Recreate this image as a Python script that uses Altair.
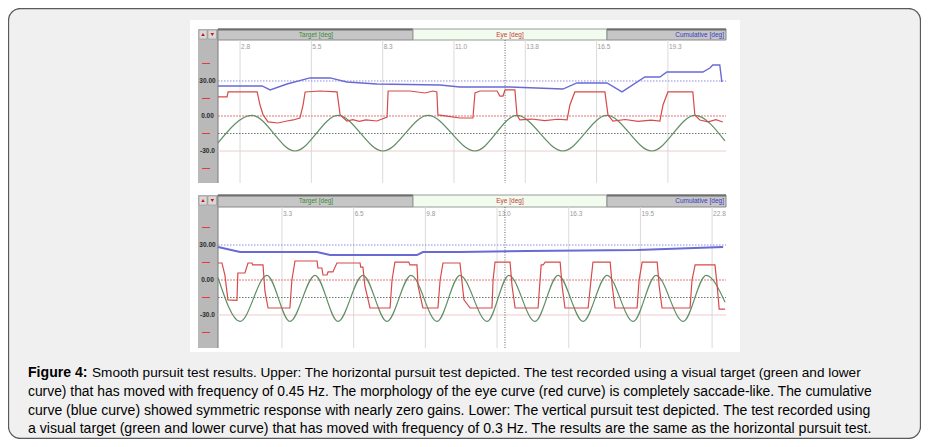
import altair as alt
import pandas as pd

# ---------------- data ----------------
# Upper panel: horizontal pursuit test (time s, position deg)
up_ticks = [2.75, 5.5, 8.25, 11.0, 13.75, 16.5, 19.25]
up_tick_labels = ["2.8", "5.5", "8.3", "11.0", "13.8", "16.5", "19.3"]

up_target_t = [1.90, 3.21, 4.87, 6.53, 8.26, 10.00, 11.81, 13.43, 15.20, 16.90, 18.63, 20.29, 21.45]
up_target_v = [-23.1, 0.5, -30.0, 0.5, -30.0, 0.5, -30.0, 0.5, -30.0, 0.5, -30.0, 0.5, -21.4]

up_eye_t = [1.90, 2.25, 2.29, 3.41, 3.52, 3.64, 3.83, 4.21, 4.56, 4.80, 5.06, 5.18, 5.26, 5.83, 6.49,
            6.61, 6.87, 7.10, 7.35, 7.60, 8.03, 8.42, 8.46, 9.30, 9.88, 10.19, 10.34, 10.38, 10.80, 11.23,
            11.73, 11.81, 12.00, 12.66, 12.77, 12.89, 12.97, 13.35, 13.43, 13.54, 14.00, 14.50, 15.00, 15.36,
            15.47, 15.66, 16.82, 16.94, 17.13, 17.60, 18.10, 18.60, 18.94, 19.06, 19.25, 20.21, 20.29,
            20.48, 20.80, 21.10, 21.37]
up_eye_v = [16.3, 16.3, 20.6, 20.6, 9.4, 0.9, -5.1, -6.0, -4.3, -3.4, -1.7, 9.4, 20.6, 21.4, 20.6,
            0.9, -4.3, -3.2, -4.6, -3.4, -4.3, -0.9, 21.4, 21.4, 19.7, 21.4, 20.6, 0.9, -0.4, -1.7,
            -1.7, 19.7, 21.4, 21.4, 17.1, 17.1, 22.3, 22.3, 0.9, -3.4, -2.6, -4.0, -2.8, -3.4,
            9.4, 20.6, 20.6, 0.9, -4.3, -3.0, -4.6, -3.6, -4.3, 9.4, 20.6, 20.6, 0.9,
            -3.4, -5.0, -3.2, -5.1]

up_cum_t = [1.90, 3.60, 3.91, 4.56, 5.45, 6.22, 6.87, 8.03, 10.46, 11.23, 13.16, 15.20, 15.74, 16.90,
            17.48, 18.36, 18.94, 19.21, 20.60, 20.87, 20.98, 21.25, 21.33]
up_cum_v = [25.7, 25.7, 22.3, 27.4, 32.6, 32.6, 29.1, 27.4, 26.6, 24.9, 24.9, 23.1, 28.3, 28.3,
            20.6, 33.4, 33.4, 37.7, 37.7, 41.1, 43.7, 43.7, 29.1]
up_cursor = 12.97

# Lower panel: vertical pursuit test
lo_ticks = [3.25, 6.5, 9.75, 13.0, 16.25, 19.5, 22.75]
lo_tick_labels = ["3.3", "6.5", "9.8", "13.0", "16.3", "19.5", "22.8"]

lo_target_t = [0.35, 1.35, 2.57, 3.61, 4.75, 5.79, 6.92, 8.01, 9.10, 10.28, 11.32, 12.55, 13.54,
               14.72, 15.77, 16.90, 17.99, 19.17, 20.21, 21.44, 22.48, 23.34]
lo_target_v = [2.0, -35.5, 4.0, -35.5, 4.0, -35.5, 4.0, -35.5, 4.0, -35.5, 4.0, -35.5, 4.0,
               -35.5, 4.0, -35.5, 4.0, -35.5, 4.0, -35.5, 4.0, -19.0]

lo_eye_t = [0.35, 0.53, 0.665, 0.80, 1.21, 1.25, 1.57, 1.71, 1.89, 1.92, 2.39, 2.48, 2.62, 3.61, 3.70,
            3.84, 4.84, 4.88, 5.06, 5.11, 5.29, 5.34, 5.56, 5.74, 6.79, 6.82, 6.92, 7.01, 7.24, 8.15,
            8.24, 8.37, 9.00, 9.05, 9.37, 9.42, 9.64, 10.32, 10.42, 10.55, 11.32, 11.50, 11.78, 12.77,
            12.82, 12.91, 13.59, 13.68, 13.82, 14.86, 15.00, 15.09, 15.18, 15.86, 15.95, 16.08, 17.13,
            17.26, 17.35, 18.13, 18.22, 18.35, 19.35, 19.44, 19.58, 20.26, 20.35, 20.48, 21.75, 21.84,
            21.98, 22.88, 22.98, 23.07, 23.34]
lo_eye_v = [14.6, 14.6, 4.0, -17.0, -17.5, 6.0, 6.0, 14.6, 14.6, 12.9, 12.9, -10.0, -24.0, -24.0, 0.0,
            16.3, 16.3, 10.3, 10.3, 4.3, 4.3, 6.9, 6.9, 14.6, 14.6, 11.0, 11.0, -5.0, -24.0, -24.0,
            0.0, 15.4, 15.4, 12.9, 12.9, -5.0, -24.0, -24.0, 0.0, 14.6, 14.6, -17.0, -24.0, -24.0,
            0.0, 15.4, 15.4, -5.0, -24.0, -24.0, 12.9, 12.9, 15.4, 15.4, -5.0, -24.0, -24.0,
            0.0, 15.4, 15.4, -5.0, -24.0, -24.0, 0.0, 15.4, 15.4, -5.0, -24.0, -24.0, 0.0,
            12.9, 12.9, -5.0, -25.0, -25.0]

lo_cum_t = [0.35, 1.35, 4.84, 5.43, 9.37, 9.64, 11.32, 14.36, 19.35, 23.25]
lo_cum_v = [28.3, 24.0, 24.0, 21.4, 21.4, 24.0, 24.0, 24.9, 25.7, 28.3]
lo_cursor = 13.36

side_values = [30, 0, -30]
side_labels = ["30.00", "0.00", "-30.0"]
side_marks = [45, 15, -15, -45]

caption_bold = "Figure 4:"
caption_lines = [
    "Smooth pursuit test results. Upper: The horizontal pursuit test depicted. The test recorded using a visual target (green and lower",
    "curve) that has moved with frequency of 0.45 Hz. The morphology of the eye curve (red curve) is completely saccade-like. The cumulative",
    "curve (blue curve) showed symmetric response with nearly zero gains. Lower: The vertical pursuit test depicted. The test recorded using",
    "a visual target (green and lower curve) that has moved with frequency of 0.3 Hz. The results are the same as the horizontal pursuit test.",
]

# ---------------- layout ----------------
W, H = 913, 431
FONT = "Liberation Sans"
PX0, PX1 = 210, 718  # plot left/right (px)
ONE = pd.DataFrame({"a": [0]})


def vrect(x, x2, y, y2, fill, stroke=None, sw=1, radius=0):
    kw = dict(fill=fill, cornerRadius=radius)
    if stroke:
        kw.update(stroke=stroke, strokeWidth=sw)
    else:
        kw.update(strokeWidth=0)
    return alt.Chart(ONE).mark_rect(**kw).encode(
        x=alt.value(x), x2=alt.value(x2), y=alt.value(y), y2=alt.value(y2))


def vrule(x, x2, y, y2, color, sw=1, dash=None):
    kw = dict(color=color, strokeWidth=sw)
    if dash:
        kw["strokeDash"] = dash
    return alt.Chart(ONE).mark_rule(**kw).encode(
        x=alt.value(x), x2=alt.value(x2), y=alt.value(y), y2=alt.value(y2))


def vtext(txt, x, y, size, color, align="center", weight="normal", font=FONT):
    return alt.Chart(ONE).mark_text(
        text=txt, fontSize=size, color=color, align=align, baseline="middle",
        fontWeight=weight, font=font).encode(x=alt.value(x), y=alt.value(y))


def panel(ticks, tick_labels, target, eye, cum, cursor, xdom, ydom, top, head_top, bottom,
          cum_width):
    xs = alt.Scale(domain=xdom, range=[PX0, PX1], nice=False, zero=False)
    ys = alt.Scale(domain=ydom, range=[bottom, top], nice=False, zero=False)
    X = lambda f: alt.X(f, scale=xs, axis=None)
    Y = lambda f: alt.Y(f, scale=ys, axis=None)
    layers = []
    # sidebar
    layers.append(vrect(190, 210, head_top, bottom, "#b9b9b9"))
    layers.append(vrule(210, 210, head_top, bottom, "#7a7a7a", 1))
    # buttons
    layers.append(vrect(191, 199, head_top + 1, head_top + 10, "#d8d8d8", "#888", 0.5))
    layers.append(vrect(200, 208.5, head_top + 1, head_top + 10, "#d8d8d8", "#888", 0.5))
    for bx, shp in ((195, "triangle-up"), (204.3, "triangle-down")):
        layers.append(alt.Chart(ONE).mark_point(shape=shp, filled=True, size=13, color="#d01010",
                                                opacity=1).encode(
            x=alt.value(bx), y=alt.value(head_top + 5.5)))
    # tabs
    layers.append(vrect(210, 405, head_top, top, "#c6c6c6", "#8a8a8a", 1))
    layers.append(vrule(210, 405, head_top + 0.5, head_top + 0.5, "#6e6e6e", 2))
    layers.append(vrect(405, 599, head_top, top, "#f1fcee", "#9a9a9a", 1))
    layers.append(vrect(599, 718, head_top, top, "#c6c6c6", "#8a8a8a", 1))
    layers.append(vrule(599, 718, head_top + 0.5, head_top + 0.5, "#6e6e6e", 2))
    layers.append(vtext("Target [deg]", 308, head_top + 6, 6.5, "#3d8b3d"))
    layers.append(vtext("Eye [deg]", 502, head_top + 6, 6.5, "#c83a3a"))
    layers.append(vtext("Cumulative [deg]", 716, head_top + 6, 6.5, "#3a3ac0", align="right"))

    # vertical grid lines at ticks
    tdf = pd.DataFrame({"t": ticks, "label": tick_labels})
    layers.append(alt.Chart(tdf).mark_rule(color="#dadada", strokeWidth=1).encode(
        x=X("t:Q"), y=alt.value(top), y2=alt.value(bottom)))
    layers.append(alt.Chart(tdf).mark_text(fontSize=6.5, color="#9a9a9a", align="left", dx=1,
                                           baseline="middle", font=FONT).encode(
        x=X("t:Q"), y=alt.value(top + 7), text="label:N"))

    # horizontal reference lines
    def hline(v, color, dash=None, sw=1):
        kw = dict(color=color, strokeWidth=sw)
        if dash:
            kw["strokeDash"] = dash
        return alt.Chart(pd.DataFrame({"v": [v]})).mark_rule(**kw).encode(
            y=Y("v:Q"), x=alt.value(PX0), x2=alt.value(PX1))
    layers.append(hline(-30, "#eccccc"))
    layers.append(hline(30, "#8c8ce0", [1.5, 1.5]))
    layers.append(hline(0, "#e07878", [2, 1]))
    layers.append(hline(-15, "#6a7a6a", [1.5, 1.5]))

    # sidebar scale labels & red marks
    sdf = pd.DataFrame({"v": side_values, "label": side_labels})
    layers.append(alt.Chart(sdf).mark_text(fontSize=6.5, color="#2a2a2a", baseline="middle",
                                           font=FONT, fontWeight="bold").encode(
        y=Y("v:Q"), x=alt.value(199.5), text="label:N"))
    mdf = pd.DataFrame({"v": side_marks})
    layers.append(alt.Chart(mdf).mark_rule(color="#e03a3a", strokeWidth=1).encode(
        y=Y("v:Q"), x=alt.value(194), x2=alt.value(202)))

    # cursor
    layers.append(alt.Chart(pd.DataFrame({"t": [cursor]})).mark_rule(
        color="#666", strokeWidth=1, strokeDash=[1, 1.5]).encode(
        x=X("t:Q"), y=alt.value(top), y2=alt.value(bottom)))

    # curves
    def curve(t, v, color, sw, interp):
        return alt.Chart(pd.DataFrame({"t": t, "v": v})).mark_line(
            color=color, strokeWidth=sw, interpolate=interp).encode(x=X("t:Q"), y=Y("v:Q"))
    layers.append(curve(target[0], target[1], "#5f8f66", 1.2, "monotone"))
    layers.append(curve(cum[0], cum[1], "#6a6ad6", cum_width, "linear"))
    layers.append(curve(eye[0], eye[1], "#d84a4a", 1.2, "linear"))
    return layers


layers = []
# page frame
layers.append(vrect(0.5, W - 0.5, 0.5, H - 0.5, "#f0f0f0", "#5a5a5a", 1.3, 12))
# white picture area
layers.append(vrect(182, 732, 12, 344, "#ffffff"))

layers += panel(up_ticks, up_tick_labels, (up_target_t, up_target_v), (up_eye_t, up_eye_v),
                (up_cum_t, up_cum_v), up_cursor, [1.90, 21.49], [-57.4, 65.1],
                top=32, head_top=21, bottom=175, cum_width=1.4)
layers += panel(lo_ticks, lo_tick_labels, (lo_target_t, lo_target_v), (lo_eye_t, lo_eye_v),
                (lo_cum_t, lo_cum_v), lo_cursor, [0.35, 23.38], [-58.3, 62.6],
                top=199, head_top=187, bottom=340, cum_width=2.0)

# caption (line sizes tuned so each line spans the width seen in the reference)
cap_size = [13.6, 13.85, 14.0, 14.1]
cap_y = [365, 384, 403, 421]
layers.append(vtext(caption_bold, 20, cap_y[0], 14.1, "#000000", align="left", weight="bold",
                    font="Liberation Sans"))
layers.append(vtext(caption_lines[0], 84, cap_y[0], cap_size[0], "#000000", align="left",
                    font="Liberation Sans"))
for line, yy, sz in zip(caption_lines[1:], cap_y[1:], cap_size[1:]):
    layers.append(vtext(line, 20, yy, sz, "#000000", align="left", font="Liberation Sans"))

chart = alt.layer(*layers).resolve_scale(x="independent", y="independent").properties(
    width=W, height=H, padding=0, autosize=alt.AutoSizeParams(type="none"),
    background="#ffffff",
).configure_view(stroke=None)

chart.save("out.html", embed_options={"renderer": "svg", "actions": False})
